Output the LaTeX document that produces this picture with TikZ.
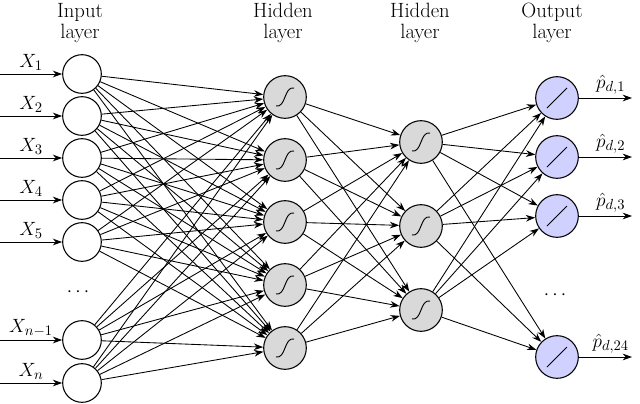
\documentclass[tikz,border=0pt]{standalone}
\usetikzlibrary{arrows.meta}
\begin{document}
\begin{tikzpicture}[x=0.75pt,y=-0.75pt,
  inp/.style={circle,draw,line width=0.8pt,minimum size=29pt,inner sep=0},
  hid/.style={circle,draw,fill=gray!30,line width=0.8pt,minimum size=32pt,inner sep=0},
  outn/.style={circle,draw,fill=blue!18,line width=0.8pt,minimum size=32pt,inner sep=0},
  con/.style={-{Stealth[length=7pt,width=5pt]},line width=0.65pt},
  lbl/.style={font=\fontsize{15.5}{18}\selectfont},
  ttl/.style={align=center,font=\fontsize{15.5}{16}\selectfont,inner sep=0}]
\useasboundingbox (0,0) rectangle (640,404);
% input layer
\foreach \i/\y/\t in {1/74/X_1,2/116/X_2,3/158/X_3,4/200/X_4,5/242/X_5,6/340/X_{n-1},7/383/X_n}{
  \node[inp] (i\i) at (82,\y) {};
  \coordinate (s\i) at (0,\y);
  \draw[con] (s\i) -- (i\i) node[lbl,midway,above=-1pt] {$\t$};
}
\node[lbl] (d1) at (78,292) {$\cdots$};
% hidden 1
\foreach \i/\y in {1/97,2/160,3/222,4/285,5/348}{
  \node[hid] (h\i) at (285,\y) {};
  \draw[line width=0.7pt] ([shift={(-9,9)}]h\i.center) .. controls ([shift={(1,11)}]h\i.center) and ([shift={(-1,-11)}]h\i.center) .. ([shift={(9,-9)}]h\i.center);
}
% hidden 2
\foreach \i/\y in {1/142,2/226,3/310}{
  \node[hid] (g\i) at (421,\y) {};
  \draw[line width=0.7pt] ([shift={(-9,9)}]g\i.center) .. controls ([shift={(1,11)}]g\i.center) and ([shift={(-1,-11)}]g\i.center) .. ([shift={(9,-9)}]g\i.center);
}
% output
\foreach \i/\y/\t in {1/98/{d,1},2/157/{d,2},3/216/{d,3},4/357/{d,24}}{
  \node[outn] (o\i) at (557,\y) {};
  \draw[line width=0.7pt] ([shift={(-10,10)}]o\i.center) -- ([shift={(10,-10)}]o\i.center);
  \coordinate (e\i) at (632,\y);
  \draw[con] (o\i) -- (e\i) node[lbl,pos=0.6,above=-1pt] {$\hat{p}_{\t}$};
}
\node[lbl] (d2) at (555,295) {$\cdots$};
% connections
\foreach \a in {1,...,7}{\foreach \b in {1,...,5}{\draw[con] (i\a) -- (h\b);}}
\foreach \a in {1,...,5}{\foreach \b in {1,...,3}{\draw[con] (h\a) -- (g\b);}}
\foreach \a in {1,...,3}{\foreach \b in {1,...,4}{\draw[con] (g\a) -- (o\b);}}
% titles
\node[ttl] (t1) at (80,23) {Input\\layer};
\node[ttl] (t2) at (283,23) {Hidden\\layer};
\node[ttl] (t3) at (420,23) {Hidden\\layer};
\node[ttl] (t4) at (552,23) {Output\\layer};
\end{tikzpicture}
\end{document}
